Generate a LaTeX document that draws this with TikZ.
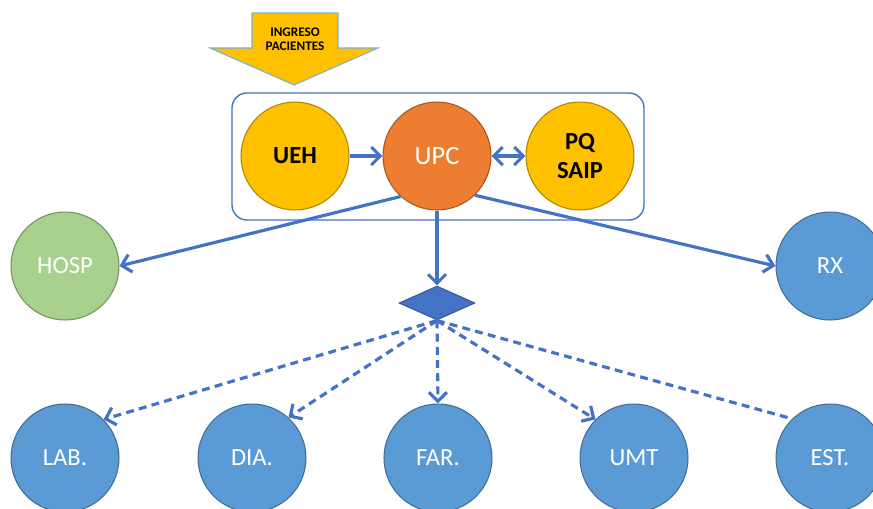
\documentclass[tikz,border=0pt]{standalone}
\usepackage{fontspec}
\setmainfont{Carlito}
\usetikzlibrary{arrows.meta,shapes.geometric}
\definecolor{amarillo}{HTML}{FFC000}
\definecolor{naranja}{HTML}{ED7D31}
\definecolor{verde}{HTML}{A9D18E}
\definecolor{celeste}{HTML}{5B9BD5}
\definecolor{azul}{HTML}{4472C4}

\begin{document}
\begin{tikzpicture}[x=0.02cm,y=-0.02cm,
  >={Straight Barb[length=1.8mm,width=3.6mm]},
  circulo/.style={circle,minimum size=2.16cm,inner sep=0pt,fill=#1,
    draw=#1!70!black,line width=0.6pt,text=white,
    font=\fontsize{14}{16}\selectfont},
  flecha/.style={->,line width=1.8pt,draw=azul},
  punteada/.style={flecha,dash pattern=on 4.5pt off 3pt}]
\useasboundingbox (0,0) rectangle (873,508);
\clip (0,0) rectangle (873,508);
% flecha de ingreso
\draw[fill=amarillo,draw=celeste!80,line width=0.6pt]
  (252,13)--(338,13)--(338,48)--(378,48)--(294,85)--(210,48)--(252,48)--cycle;
\node[align=center,font=\bfseries\fontsize{7.5}{8.2}\selectfont] (ingreso) at (295,39)
  {INGRESO\\PACIENTES};
% recuadro
\draw[draw=azul,line width=0.8pt,rounded corners=0.3cm] (232,93) rectangle (644,220);
% nodos
\node[circulo=amarillo,text=black,font=\bfseries\fontsize{14}{16}\selectfont] (ueh) at (295,156) {UEH};
\node[circulo=naranja,font=\fontsize{15}{17}\selectfont] (upc) at (437,156) {UPC};
\node[circulo=amarillo,text=black,align=center,font=\bfseries\fontsize{14}{17}\selectfont] (pq) at (580,156) {PQ\\SAIP};
\node[circulo=verde] (hosp) at (65,266) {HOSP};
\node[circulo=celeste] (rx) at (830,266) {RX};
\node[diamond,fill=azul,draw=azul!80!black,line width=0.6pt,inner sep=0pt,
  minimum width=1.52cm,minimum height=0.68cm] (rombo) at (437,303) {};
\node[circulo=celeste] (lab) at (65,458) {LAB.};
\node[circulo=celeste] (dia) at (252,458) {DIA.};
\node[circulo=celeste] (far) at (438,458) {FAR.};
\node[circulo=celeste] (umt) at (634,458) {UMT};
\node[circulo=celeste] (est) at (830,458) {EST.};
% conectores
\draw[flecha] (ueh.east) -- (upc.west);
\draw[flecha,<->] (upc.east) -- (pq.west);
\draw[flecha] (upc.228) -- (hosp.east);
\draw[flecha] (upc.-46) -- (rx.west);
\draw[flecha] (upc.south) -- (rombo.north);
\draw[punteada] (rombo.south) -- (lab.45);
\draw[punteada] (rombo.south) -- (dia.48);
\draw[punteada] (rombo.south) -- (far.north);
\draw[punteada] (rombo.south) -- (umt.135);
\draw[punteada,-] (rombo.south) -- (est.134);
\end{tikzpicture}
\end{document}
